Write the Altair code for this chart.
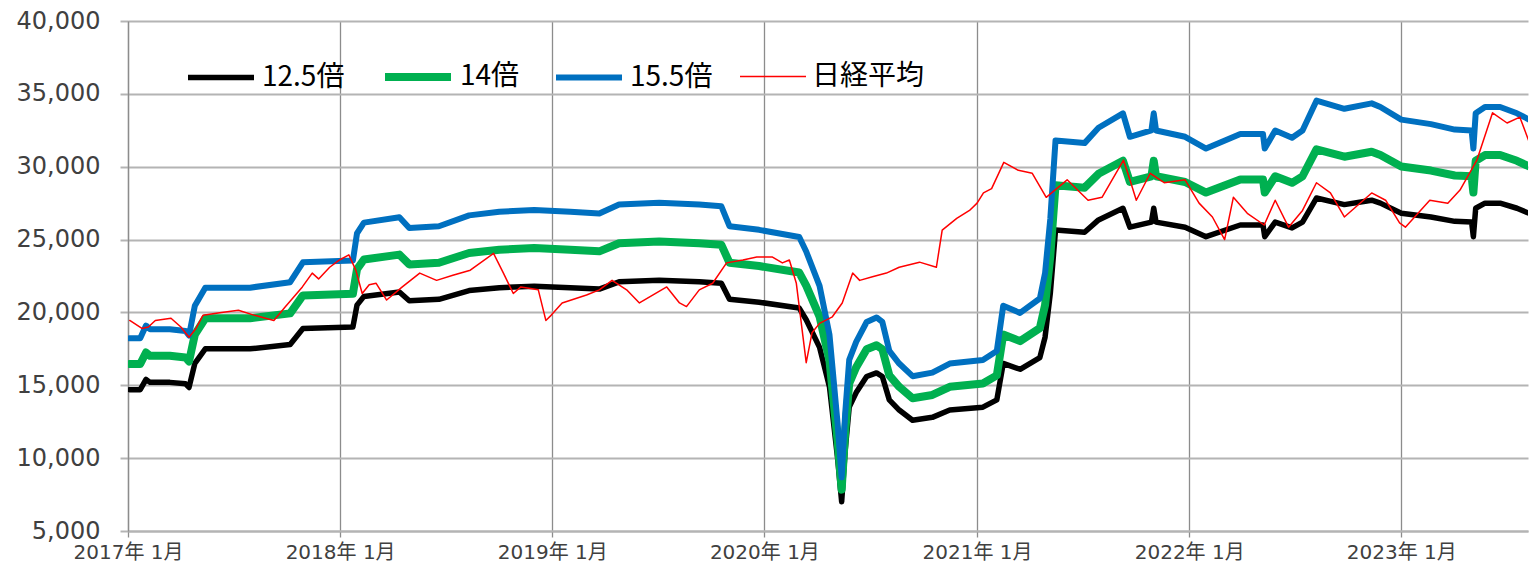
import altair as alt
import pandas as pd

# EPS-like base (value of the 12.5x line divided by 12.5)
eps_dates = [
    "2017-01-04", "2017-01-22", "2017-02-01", "2017-02-08", "2017-03-14", "2017-04-10", "2017-04-16",
    "2017-04-26", "2017-05-14", "2017-07-30", "2017-10-07", "2017-10-29", "2018-01-23", "2018-01-30",
    "2018-02-11", "2018-04-13", "2018-04-30", "2018-06-20", "2018-08-11", "2018-10-02", "2018-12-01",
    "2019-02-01", "2019-03-23", "2019-04-26", "2019-07-04", "2019-09-11", "2019-10-19", "2019-11-02",
    "2019-12-23", "2020-03-01", "2020-03-13", "2020-04-05", "2020-04-22", "2020-05-06", "2020-05-13",
    "2020-05-19", "2020-05-26", "2020-06-07", "2020-06-25", "2020-07-12", "2020-07-22", "2020-08-03",
    "2020-08-20", "2020-09-12", "2020-10-16", "2020-11-15", "2021-01-11", "2021-02-04", "2021-02-15",
    "2021-03-16", "2021-04-19", "2021-04-28", "2021-05-07", "2021-05-16", "2021-07-05", "2021-07-29",
    "2021-09-09", "2021-09-21", "2021-10-28", "2021-11-01", "2021-11-05", "2021-12-25", "2022-01-30",
    "2022-03-30", "2022-05-08", "2022-05-11", "2022-05-29", "2022-06-27", "2022-07-15", "2022-08-08",
    "2022-09-25", "2022-11-11", "2022-11-26", "2023-01-01", "2023-02-21", "2023-04-03", "2023-05-02",
    "2023-05-05", "2023-05-09", "2023-05-25", "2023-06-20", "2023-07-19", "2023-08-27",
]
eps_values = [
    1176, 1176, 1232, 1216, 1216, 1208, 1188,
    1320, 1400, 1400, 1424, 1512, 1520, 1640,
    1688, 1712, 1664, 1672, 1720, 1736, 1744,
    1736, 1728, 1768, 1776, 1768, 1760, 1672,
    1656, 1624, 1560, 1408, 1192, 800, 560,
    840, 1080, 1160, 1248, 1268, 1248, 1120,
    1064, 1008, 1024, 1064, 1080, 1120, 1320,
    1288, 1352, 1464, 1704, 2052, 2040, 2108,
    2172, 2068, 2096, 2172, 2096, 2068, 2016,
    2080, 2080, 2016, 2096, 2064, 2096, 2228,
    2192, 2216, 2200, 2144, 2124, 2100, 2096,
    2016, 2172, 2200, 2200, 2172, 2120,
]
multiples = [12.5, 14, 15.5]
multiple_labels = ["12.5倍", "14倍", "15.5倍"]

nikkei_dates = [
    "2017-01-04", "2017-01-25", "2017-02-05", "2017-02-17", "2017-03-16", "2017-04-02", "2017-04-16",
    "2017-04-28", "2017-05-10", "2017-06-11", "2017-07-10", "2017-08-07", "2017-09-09", "2017-09-28",
    "2017-10-28", "2017-11-14", "2017-11-25", "2017-12-14", "2017-12-31", "2018-01-16", "2018-01-28",
    "2018-02-08", "2018-02-20", "2018-03-04", "2018-03-22", "2018-04-18", "2018-05-18", "2018-06-16",
    "2018-07-14", "2018-08-13", "2018-09-22", "2018-10-09", "2018-10-26", "2018-11-08", "2018-12-08",
    "2018-12-21", "2018-12-30", "2019-01-18", "2019-03-01", "2019-03-23", "2019-04-14", "2019-05-09",
    "2019-05-31", "2019-07-17", "2019-08-08", "2019-08-20", "2019-09-11", "2019-10-04", "2019-10-28",
    "2019-11-25", "2019-12-19", "2020-01-15", "2020-02-01", "2020-02-13", "2020-02-25", "2020-03-13",
    "2020-03-23", "2020-04-05", "2020-04-27", "2020-05-14", "2020-06-01", "2020-06-13", "2020-07-05",
    "2020-07-29", "2020-08-20", "2020-09-24", "2020-10-23", "2020-11-02", "2020-11-27", "2020-12-19",
    "2021-01-01", "2021-01-12", "2021-01-26", "2021-02-16", "2021-03-13", "2021-04-06", "2021-04-30",
    "2021-06-05", "2021-07-11", "2021-08-04", "2021-09-10", "2021-09-21", "2021-10-02", "2021-10-26",
    "2021-11-19", "2021-12-25", "2022-01-18", "2022-02-10", "2022-03-03", "2022-03-18", "2022-04-11",
    "2022-05-10", "2022-05-29", "2022-06-21", "2022-07-15", "2022-08-08", "2022-09-01", "2022-09-25",
    "2022-11-11", "2022-12-05", "2022-12-29", "2023-01-08", "2023-02-19", "2023-03-22", "2023-04-12",
    "2023-05-11", "2023-06-07", "2023-07-02", "2023-07-24", "2023-08-10", "2023-08-24",
]
nikkei_values = [
    19450, 18900, 19000, 19450, 19600, 19000, 18300,
    18900, 19800, 20000, 20150, 19800, 19450, 20350,
    21750, 22700, 22300, 23100, 23600, 23950, 22900,
    21300, 21900, 22000, 20850, 21750, 22700, 22200,
    22550, 22900, 24050, 22700, 21300, 21750, 21550,
    19450, 19800, 20650, 21200, 21550, 22200, 21550,
    20650, 21750, 20650, 20400, 21550, 22000, 23400,
    23600, 23800, 23800, 23400, 23600, 22000, 16550,
    18600, 19250, 19700, 20650, 22700, 22200, 22450,
    22700, 23100, 23450, 23100, 25650, 26450, 27000,
    27500, 28200, 28500, 30300, 29750, 29550, 27900,
    29100, 27700, 27900, 30450, 29100, 27700, 29550,
    28900, 29100, 27500, 26550, 25000, 27900, 26800,
    26000, 27700, 25850, 27000, 28900, 28200, 26550,
    28200, 27700, 26150, 25850, 27700, 27500, 28400,
    30450, 33700, 33000, 33400, 31600, 32750,
]

series_names = multiple_labels + ["日経平均"]
series_colors = ["#000000", "#00b050", "#0070c0", "#ff0000"]
series_widths = [5.5, 8, 6, 1.5]
year_ticks = [2017, 2018, 2019, 2020, 2021, 2022, 2023]
y_ticks = [5000, 10000, 15000, 20000, 25000, 30000, 35000, 40000]

rows = []
for m, lab in zip(multiples, multiple_labels):
    for d, e in zip(eps_dates, eps_values):
        rows.append({"date": d, "value": e * m, "series": lab})
for d, v in zip(nikkei_dates, nikkei_values):
    rows.append({"date": d, "value": v, "series": "日経平均"})
df = pd.DataFrame(rows)

legend = alt.Legend(
    title=None, orient="none", legendX=57, legendY=19, direction="horizontal",
    symbolType="stroke", symbolSize=4356, labelFont="Noto Sans CJK JP",
    labelFontSize=28, labelColor="#000000", labelOffset=5, columnPadding=24,
    labelLimit=300,
)

x_enc = alt.X(
    "date:T",
    scale=alt.Scale(
        type="utc",
        domain=[alt.DateTime(year=2017, month=1, date=1, utc=True),
                alt.DateTime(year=2023, month=8, date=7, utc=True)],
    ),
    axis=alt.Axis(
        values=[alt.DateTime(year=y, month=1, date=1, utc=True) for y in year_ticks],
        labelExpr="utcFormat(datum.value, '%Y') + '年 1月'",
        title=None, grid=True, gridColor="#8c8c8c", gridWidth=1.3,
        domainColor="#b4b4b4", domainWidth=2, tickColor="#8c8c8c", tickSize=6,
        tickWidth=1.3, labelFont="DejaVu Sans, Noto Sans CJK JP", labelFontSize=20,
        labelColor="#404040", labelPadding=5, labelFlush=False,
    ),
)
y_enc = alt.Y(
    "value:Q",
    scale=alt.Scale(domain=[5000, 40000], nice=False, zero=False),
    axis=alt.Axis(
        values=y_ticks, labelExpr="format(datum.value, ',.0f')", title=None, grid=True,
        gridColor="#b4b4b4", gridWidth=2, domainColor="#8c8c8c", domainWidth=1.3,
        tickColor="#b4b4b4", tickSize=8, tickWidth=2, labelFont="DejaVu Sans",
        labelFontSize=24, labelColor="#404040", labelPadding=20,
    ),
)
color_enc = alt.Color("series:N", scale=alt.Scale(domain=series_names, range=series_colors), legend=legend)
width_enc = alt.StrokeWidth(
    "series:N",
    scale=alt.Scale(type="ordinal", domain=series_names, range=series_widths),
    legend=legend,
)

base = alt.Chart(df).mark_line(clip=True, strokeJoin="round", strokeCap="round").encode(
    x=x_enc, y=y_enc, color=color_enc, strokeWidth=width_enc
)
layers = [base.transform_filter(alt.datum.series == s) for s in series_names]

chart = alt.layer(*layers).properties(
    width=1400, height=510,
    autosize=alt.AutoSizeParams(type="none"),
    padding={"left": 120, "top": 13, "right": 3, "bottom": 34},
).configure_view(stroke=None)

chart.save("out.html", embed_options={"renderer": "svg", "actions": False})
